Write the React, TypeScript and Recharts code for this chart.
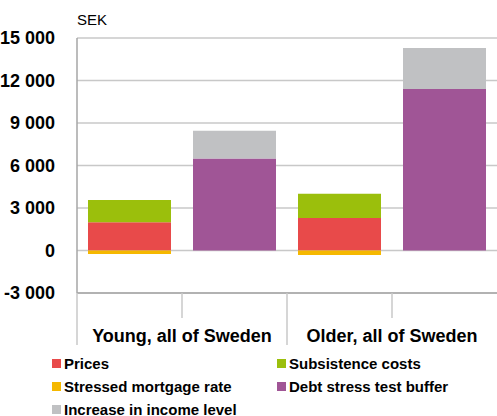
import { BarChart, Bar, XAxis, YAxis, CartesianGrid } from 'recharts';

const positions = [0.5, 1.5, 2.5, 3.5];
const prices = [2000, null, 2300, null];
const stressedRate = [-250, null, -320, null];
const subsistence = [1570, null, 1700, null];
const debtBuffer = [null, 6500, null, 11400];
const incomeIncrease = [null, 1950, null, 2900];

const yTicks = [-3000, 0, 3000, 6000, 9000, 12000, 15000];
const groupLabels: Record<number, string> = { 1: 'Young, all of Sweden', 3: 'Older, all of Sweden' };

const series = [
  { key: 'prices', label: 'Prices', color: '#e84a4a' },
  { key: 'stressed', label: 'Stressed mortgage rate', color: '#f5b800' },
  { key: 'subsistence', label: 'Subsistence costs', color: '#9bbf0c' },
  { key: 'debt', label: 'Debt stress test buffer', color: '#a05596' },
  { key: 'income', label: 'Increase in income level', color: '#c0c1c3' },
];
// legend order as in the picture (two columns)
const legendOrder = ['prices', 'subsistence', 'stressed', 'debt', 'income'];

const data = positions.map((p, i) => ({
  pos: p,
  prices: prices[i],
  stressed: stressedRate[i],
  subsistence: subsistence[i],
  debt: debtBuffer[i],
  income: incomeIncrease[i],
}));

const FONT = '"Liberation Sans", Arial, sans-serif';
const fmt = (v: number) => v.toLocaleString('en-US').replace(/,/g, ' ');

const CatTick = (props: any) => {
  const { x, y, payload } = props;
  const v = payload.value;
  const long = v === 0 || v === 2;
  return (
    <g>
      <line x1={x} x2={x} y1={y} y2={y + (long ? 52 : 25)} stroke="#c8c8c8" strokeWidth={1.5} />
      {groupLabels[v] && (
        <text x={x} y={y + 49} textAnchor="middle" fontFamily={FONT} fontWeight="bold" fontSize={18} fill="#000">
          {groupLabels[v]}
        </text>
      )}
    </g>
  );
};

const LegendBox = () => {
  const items = legendOrder.map((k) => series.find((s) => s.key === k)!);
  return (
    <div style={{ position: 'absolute', left: 0, top: 353, width: 497, height: 66, fontFamily: FONT, fontWeight: 'bold', fontSize: 15 }}>
      {items.map((s, i) => (
        <div
          key={s.key}
          style={{ position: 'absolute', left: i % 2 === 0 ? 52 : 277, top: Math.floor(i / 2) * 23, display: 'flex', alignItems: 'center', height: 20, color: '#000' }}
        >
          <span style={{ display: 'inline-block', width: 9, height: 9, background: s.color, marginRight: 3 }} />
          <span>{s.label}</span>
        </div>
      ))}
    </div>
  );
};

export default function App() {
  return (
    <div style={{ position: 'absolute', left: 0, top: 0, width: 497, height: 416, background: '#fff', overflow: 'hidden' }}>
      <div style={{ position: 'absolute', left: 77, top: 11, fontFamily: FONT, fontSize: 15, color: '#000' }}>SEK</div>
      <BarChart width={497} height={416} data={data} stackOffset="sign" margin={{ top: 38, right: 0, left: 0, bottom: 71 }}>
        <CartesianGrid vertical={false} stroke="#c8c8c8" strokeWidth={1.5} />
        <XAxis
          type="number"
          dataKey="pos"
          domain={[0, 4]}
          ticks={[0, 1, 2, 3]}
          interval={0}
          height={52}
          tickSize={0}
          tickMargin={0}
          tick={<CatTick />}
          axisLine={{ stroke: '#a6a6a6', strokeWidth: 1.5 }}
        />
        <YAxis
          width={77}
          domain={[-3000, 15000]}
          ticks={yTicks}
          interval={0}
          tickFormatter={fmt}
          tickLine={false}
          tickMargin={16}
          axisLine={{ stroke: '#a6a6a6', strokeWidth: 1.5 }}
          tick={{ fontFamily: FONT, fontWeight: 'bold', fontSize: 18, fill: '#000' }}
        />
        {series.map((s) => (
          <Bar key={s.key} dataKey={s.key} stackId="a" fill={s.color} barSize={83} isAnimationActive={false} />
        ))}
      </BarChart>
      <LegendBox />
    </div>
  );
}
